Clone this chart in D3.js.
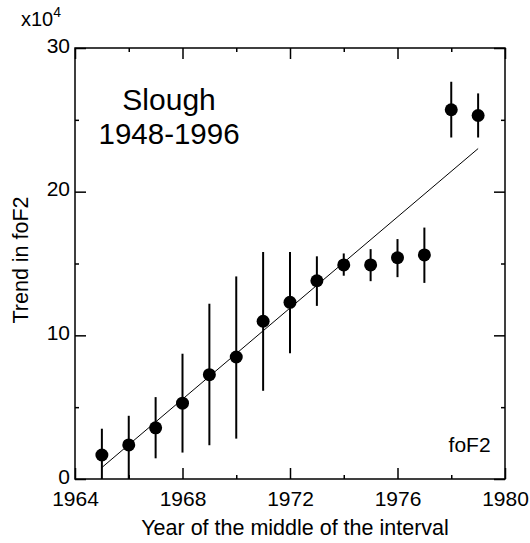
<!DOCTYPE html>
<html>
<head>
<meta charset="utf-8">
<script src="https://cdn.jsdelivr.net/npm/d3@7"></script>
<style>
  body { margin: 0; background: #fff; }
  svg text { font-family: "Liberation Sans", Arial, Helvetica, sans-serif; fill: #000; }
  .axis path { display: none; }
  .axis line { stroke: #000; stroke-width: 1.5; }
</style>
</head>
<body>
<div id="chart"></div>
<script>
// Data (values in units of 10^4).
var years = [1965, 1966, 1967, 1968, 1969, 1970, 1971, 1972, 1973, 1974, 1975, 1976, 1977, 1978, 1979];
var trend = [1.67, 2.37, 3.56, 5.28, 7.26, 8.49, 10.98, 12.3, 13.8, 14.9, 14.9, 15.4, 15.6, 25.7, 25.3];
var errHigh = [3.5, 4.4, 5.7, 8.72, 12.2, 14.1, 15.8, 15.8, 15.5, 15.7, 16.0, 16.7, 17.5, 27.65, 26.84];
var errLow = [0, 0, 1.44, 1.84, 2.35, 2.81, 6.14, 8.75, 12.05, 14.15, 13.77, 14.05, 13.65, 23.77, 23.77];
var fitYears = [1965, 1979];
var fitValues = [0.8, 23.0];
var xMajor = [1964, 1968, 1972, 1976, 1980];
var xMinor = [1966, 1970, 1974, 1978];
var yMajor = [0, 10, 20, 30];
var yMinor = [5, 15, 25];

var W = 530, H = 543;
var m = { left: 75, top: 48 },
  w = 430,
  h = 431;

var svg = d3.select('#chart').append('svg')
  .attr('width', W)
  .attr('height', H);

var g = svg.append('g')
  .attr('transform', 'translate(' + m.left + ',' + m.top + ')');

var x = d3.scaleLinear().domain([1964, 1980]).range([0, w]);
var y = d3.scaleLinear().domain([0, 30]).range([h, 0]);

// Frame.
g.append('rect')
  .attr('width', w)
  .attr('height', h)
  .style('fill', 'none')
  .style('stroke', '#000')
  .style('stroke-width', 1.5);

// Ticks point inwards on all four sides.
function ticks(axis, vals, size, tr, labels) {
  var a = g.append('g').attr('class', 'axis').attr('transform', tr)
    .call(axis.tickValues(vals).tickSize(-size).tickPadding(size + 6)
      .tickFormat(labels ? d3.format('d') : ''));
  a.selectAll('text').style('font-size', '21px');
  return a;
}
ticks(d3.axisBottom(x), xMajor, 11, 'translate(0,' + h + ')', true)
  .selectAll('text').attr('y', 12).attr('dy', '0.71em');
ticks(d3.axisBottom(x), xMinor, 4, 'translate(0,' + h + ')', false);
ticks(d3.axisTop(x), xMajor, 11, 'translate(0,0)', false);
ticks(d3.axisTop(x), xMinor, 4, 'translate(0,0)', false);
ticks(d3.axisLeft(y), yMajor, 11, 'translate(0,0)', true)
  .selectAll('text').attr('x', -5).attr('dy', '0.2em');
ticks(d3.axisLeft(y), yMinor, 4, 'translate(0,0)', false);
ticks(d3.axisRight(y), yMajor, 11, 'translate(' + w + ',0)', false);
ticks(d3.axisRight(y), yMinor, 4, 'translate(' + w + ',0)', false);

// Fit line.
var line = d3.line()
  .x(function (d) { return x(d); })
  .y(function (d, i) { return y(fitValues[i]); });
g.append('path')
  .datum(fitYears)
  .attr('d', line)
  .style('fill', 'none')
  .style('stroke', '#000')
  .style('stroke-width', 1);

// Error bars.
g.selectAll('.err').data(years).enter().append('line')
  .attr('class', 'err')
  .attr('x1', function (d) { return x(d); })
  .attr('x2', function (d) { return x(d); })
  .attr('y1', function (d, i) { return y(errLow[i]); })
  .attr('y2', function (d, i) { return y(errHigh[i]); })
  .style('stroke', '#000')
  .style('stroke-width', 2);

// Points.
g.selectAll('.pt').data(years).enter().append('circle')
  .attr('class', 'pt')
  .attr('cx', function (d) { return x(d); })
  .attr('cy', function (d, i) { return y(trend[i]); })
  .attr('r', 6.5)
  .style('fill', '#000');

// Texts.
g.append('text')
  .attr('x', x(1967.5))
  .attr('y', 62)
  .attr('text-anchor', 'middle')
  .style('font-size', '30px')
  .text('Slough');
g.append('text')
  .attr('x', x(1967.5))
  .attr('y', 96)
  .attr('text-anchor', 'middle')
  .style('font-size', '29.5px')
  .text('1948-1996');
g.append('text')
  .attr('x', x(1977.9))
  .attr('y', 404)
  .style('font-size', '21px')
  .text('foF2');

// Axis titles.
svg.append('text')
  .attr('x', 295)
  .attr('y', 535)
  .attr('text-anchor', 'middle')
  .style('font-size', '21.5px')
  .text('Year of the middle of the interval');
svg.append('text')
  .attr('transform', 'translate(28,260) rotate(-90)')
  .attr('text-anchor', 'middle')
  .style('font-size', '21.5px')
  .text('Trend in foF2');

// Scale factor.
var sf = svg.append('text')
  .attr('x', 21)
  .attr('y', 26)
  .style('font-size', '20px');
sf.append('tspan').text('x10');
sf.append('tspan')
  .attr('dy', -9)
  .style('font-size', '14px')
  .text('4');
</script>
</body>
</html>
